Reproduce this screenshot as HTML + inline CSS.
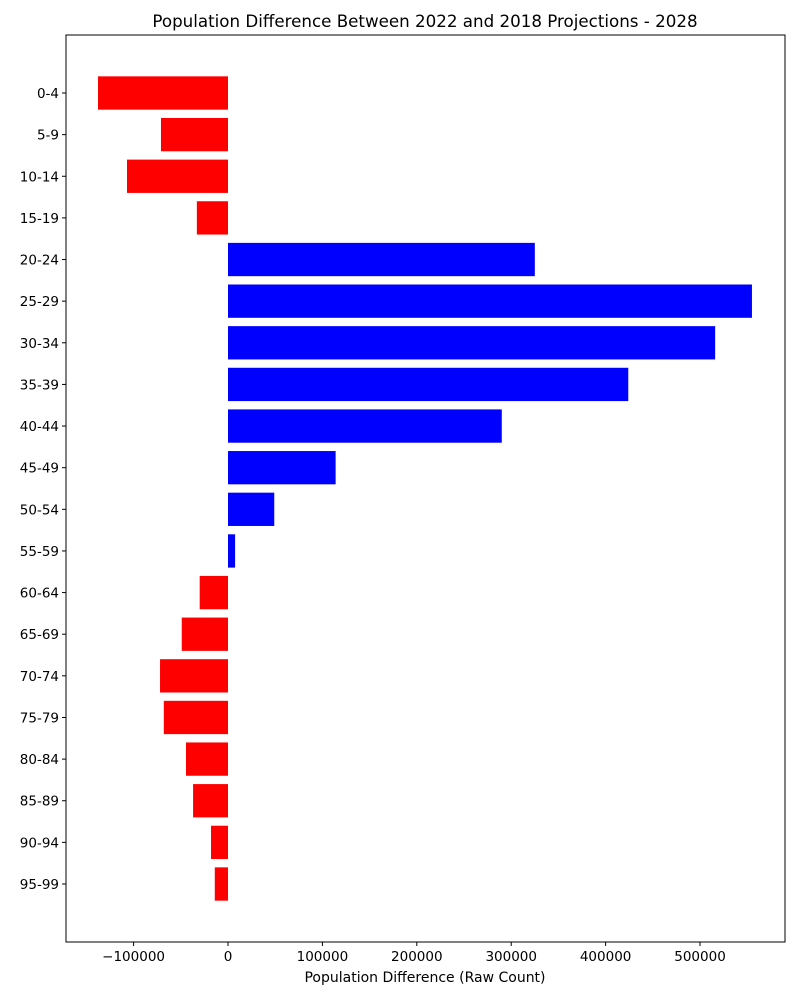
<!DOCTYPE html>
<html><head><meta charset="utf-8"><style>
body{margin:0;background:#fff;font-family:"Liberation Sans","DejaVu Sans",sans-serif;}
svg text{font-family:"DejaVu Sans","Liberation Sans",sans-serif;fill:#000;}
</style></head><body>
<svg id="chart" width="800" height="1000"></svg>
<script>
const categories=["0-4","5-9","10-14","15-19","20-24","25-29","30-34","35-39","40-44","45-49","50-54","55-59","60-64","65-69","70-74","75-79","80-84","85-89","90-94","95-99"];
const values=[-137700,-71000,-107000,-33000,325000,555000,516000,424000,290000,114000,49000,7500,-30000,-49000,-72000,-68000,-44500,-37000,-18000,-14000];
const xTicks=[-100000,0,100000,200000,300000,400000,500000];
const xTickLabels=["\u2212100000","0","100000","200000","300000","400000","500000"];
const NS="http://www.w3.org/2000/svg";
const svg=document.getElementById('chart');
const L=66,R=785,T=35,B=942;
const xMin=-171600,xMax=590000;
const x=v=>L+(v-xMin)/(xMax-xMin)*(R-L);
const step=(884-93)/19;
const y=i=>93+i*step;
function mk(tag,attrs,parent){const e=document.createElementNS(NS,tag);for(const k in attrs)e.setAttribute(k,attrs[k]);(parent||svg).appendChild(e);return e;}
const title=mk('text',{x:425,y:27,'text-anchor':'middle','font-size':16.7});
title.textContent="Population Difference Between 2022 and 2018 Projections - 2028";


const bars=mk('g',{});


const bh=step*0.8;
values.forEach((v,i)=>{
  const x0=x(Math.min(0,v)),x1=x(Math.max(0,v));
  const r=mk('rect',{x:x0,y:y(i)-bh/2,width:x1-x0,height:bh,fill:v<0?'#ff0000':'#0000ff'},bars);
  
  
});
const frame=mk('rect',{x:L,y:T,width:R-L,height:B-T,fill:'none',stroke:'#000','stroke-width':1});


const yax=mk('g',{});


categories.forEach((c,i)=>{
  mk('line',{x1:L-4,x2:L,y1:y(i),y2:y(i),stroke:'#000'},yax);
  const t=mk('text',{x:L-7,y:y(i)+5,'text-anchor':'end','font-size':13.5},yax);
  t.textContent=c;
  
  
});
const xax=mk('g',{});


xTicks.forEach((v,i)=>{
  mk('line',{x1:x(v),x2:x(v),y1:B,y2:B+4,stroke:'#000'},xax);
  const t=mk('text',{x:x(v),y:B+19,'text-anchor':'middle','font-size':13.5},xax);
  t.textContent=xTickLabels[i];
  
  
});
const xt=mk('text',{x:425,y:982,'text-anchor':'middle','font-size':14});
xt.textContent="Population Difference (Raw Count)";


</script>
</body></html>
